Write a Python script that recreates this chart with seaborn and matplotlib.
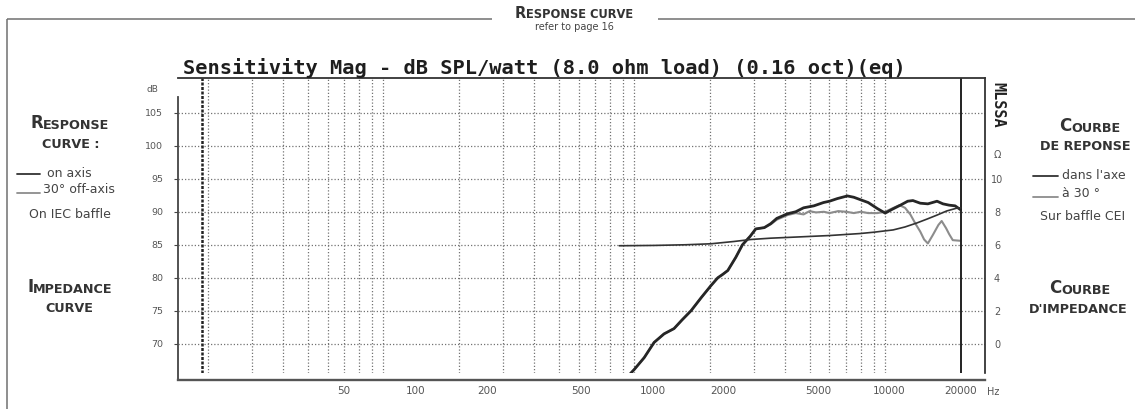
import matplotlib
matplotlib.use("Agg")
import matplotlib.pyplot as plt
from matplotlib.ticker import NullLocator
import seaborn as sns
import pandas as pd

# ---------------- data ----------------
on_axis_freq = [940, 1000, 1096, 1200, 1315, 1441, 1550, 1684, 1850, 2021,
                2153, 2250, 2360, 2540, 2700, 2900, 3050, 3300, 3500, 3700,
                4085, 4400, 4730, 5200, 5680, 6000, 6450, 7070, 7500, 7750,
                8560, 9300, 10000, 10700, 11500, 12300, 12900, 13800, 14800, 16100,
                17000, 18000, 19000, 20000]
on_axis_db = [65.0, 66.1, 67.9, 70.2, 71.5, 72.3, 73.6, 75.0, 77.0, 78.8,
              80.0, 80.5, 81.1, 83.1, 85.0, 86.3, 87.4, 87.6, 88.2, 89.0,
              89.7, 90.0, 90.6, 90.9, 91.4, 91.6, 92.0, 92.4, 92.2, 92.0,
              91.4, 90.5, 89.8, 90.4, 91.0, 91.6, 91.7, 91.3, 91.2, 91.6,
              91.2, 91.0, 90.9, 90.3]

off_axis_freq = [940, 1000, 1096, 1200, 1315, 1441, 1550, 1684, 1850, 2021,
                 2153, 2250, 2360, 2540, 2700, 2900, 3050, 3300, 3500, 3700,
                 4085, 4400, 4730, 5000, 5300, 5700, 6000, 6500, 7000, 7500,
                 8000, 8560, 9300, 10000, 10800, 11400, 12000, 12600, 13200, 13800,
                 14300, 14800, 15500, 16300, 16800, 17500, 18000, 18600, 20000]
off_axis_db = [65.0, 66.1, 67.9, 70.2, 71.5, 72.3, 73.6, 75.0, 77.0, 78.8,
               80.0, 80.5, 81.1, 83.1, 85.0, 86.3, 87.4, 87.6, 88.1, 88.8,
               89.5, 89.8, 89.6, 90.1, 89.9, 90.0, 89.8, 90.1, 90.0, 89.8,
               90.0, 89.8, 89.8, 90.0, 90.6, 91.0, 90.6, 89.6, 88.2, 87.0,
               85.8, 85.2, 86.5, 88.0, 88.6, 87.5, 86.6, 85.7, 85.6]

impedance_freq = [872, 1200, 1600, 2020, 2500, 2915, 3500, 4600, 6000, 7930,
                  9000, 10760, 12000, 13370, 14700, 16100, 17600, 19300, 20000]
impedance_ohm = [5.94, 5.96, 6.00, 6.06, 6.20, 6.32, 6.40, 6.48, 6.56, 6.68,
                 6.76, 6.90, 7.08, 7.32, 7.56, 7.80, 8.05, 8.22, 8.24]

grid_freqs = [20, 30, 40, 50, 60, 70, 80, 90, 100,
              200, 300, 400, 500, 600, 700, 800, 900, 1000,
              2000, 3000, 4000, 5000, 6000, 7000, 8000, 9000, 10000]
band_limits = [19, 20000]

spl_ticks = [70, 75, 80, 85, 90, 95, 100, 105]
spl_labels = ["70", "75", "80", "85", "90", "95", "100", "105"]
ohm_ticks = [0, 2, 4, 6, 8, 10]
ohm_labels = ["0", "2", "4", "6", "8", "10"]
freq_label_ticks = [50, 100, 200, 500, 1000, 2000, 5000, 10000, 20000]
freq_labels = ["50", "100", "200", "500", "1000", "2000", "5000", "10000", "20000"]

title = "Sensitivity Mag - dB SPL/watt (8.0 ohm load) (0.16 oct)(eq)"

# axis ranges
inner_xlim = (15.2, 25000)
inner_ylim = (65.57, 110.27)
frame_xlim = (9.94, 25350)
ohm_zero_db = 70.0
db_per_ohm = 2.5

# ---------------- figure ----------------
W, H = 1135, 409
sns.set_style("white")
plt.rcParams["font.family"] = ["DejaVu Sans"]

fig = plt.figure(figsize=(W / 100, H / 100), dpi=100)
fig.patch.set_facecolor("white")


def fx(px):
    return px / W


def fy(py):
    return 1 - py / H


TXT = "#444444"
NUM = "#555555"

# outer printed frame (carries the frequency labels)
axf = fig.add_axes([fx(178), fy(380), fx(985) - fx(178), fy(97) - fy(380)])
axf.set_facecolor("none")
axf.set_xscale("log")
axf.set_xlim(*frame_xlim)
axf.set_xticks(freq_label_ticks, labels=freq_labels)
axf.xaxis.set_minor_locator(NullLocator())
axf.tick_params(axis="x", bottom=True, length=0, pad=4.5, labelsize=7.5, labelcolor=NUM)
axf.set_yticks([])
axf.spines["top"].set_visible(False)
axf.spines["right"].set_visible(False)
axf.spines["left"].set_color("#444444")
axf.spines["left"].set_linewidth(1.3)
axf.spines["bottom"].set_color("#555555")
axf.spines["bottom"].set_linewidth(1.7)

# inner measurement plot
ax = fig.add_axes([fx(178), fy(373), fx(985) - fx(178), fy(78) - fy(373)])
ax.set_facecolor("none")
ax.set_xscale("log")

df_off = pd.DataFrame({"freq": off_axis_freq, "spl": off_axis_db})
df_on = pd.DataFrame({"freq": on_axis_freq, "spl": on_axis_db})
sns.lineplot(data=df_off, x="freq", y="spl", ax=ax, color="#8c8c8c", linewidth=1.5)
sns.lineplot(data=df_on, x="freq", y="spl", ax=ax, color="#262626", linewidth=2.0)

ax.axvline(band_limits[0], color="#222222", linewidth=1.8, linestyle=(0, (1.2, 0.6)))
ax.axvline(band_limits[1], color="#222222", linewidth=1.4)

ax.set_xticks(grid_freqs)
ax.xaxis.set_minor_locator(NullLocator())
ax.tick_params(axis="x", length=0, labelbottom=False, bottom=False)
ax.set_yticks(spl_ticks, labels=spl_labels)
ax.tick_params(axis="y", left=True, direction="out", length=3, width=0.8,
               color="#444444", pad=7.5, labelsize=6.8, labelcolor=NUM)
ax.grid(True, which="major", color="#737373", linestyle=(0, (1, 1.6)), linewidth=0.9)
ax.set_xlabel("")
ax.set_ylabel("")
ax.spines["left"].set_visible(False)
ax.spines["bottom"].set_visible(False)
ax.spines["top"].set_color("#333333")
ax.spines["top"].set_linewidth(1.3)
ax.spines["right"].set_color("#222222")
ax.spines["right"].set_linewidth(1.2)

# impedance on the right-hand (ohm) scale
axr = ax.twinx()
sns.lineplot(x=impedance_freq, y=impedance_ohm, ax=axr, color="#333333", linewidth=1.2)
axr.set_ylim((inner_ylim[0] - ohm_zero_db) / db_per_ohm, (inner_ylim[1] - ohm_zero_db) / db_per_ohm)
axr.set_yticks(ohm_ticks, labels=ohm_labels)
axr.tick_params(axis="y", right=True, length=0, pad=8.6, labelsize=7, labelcolor=NUM)
for t in axr.get_yticklabels():
    t.set_horizontalalignment("center")
axr.grid(False)
axr.set_xlabel("")
axr.set_ylabel("")
for s in axr.spines.values():
    s.set_visible(False)
axr.annotate("Ω", xy=(1, 11.44), xycoords=("axes fraction", "data"),
             xytext=(8.6, 0), textcoords="offset points",
             ha="center", va="center", fontsize=7, color=NUM)

ax.set_xlim(*inner_xlim)
ax.set_ylim(*inner_ylim)

# ---------------- overlay for page text (pixel coordinates) ----------------
ov = fig.add_axes([0, 0, 1, 1])
ov.set_xlim(0, W)
ov.set_ylim(H, 0)
ov.axis("off")
ov.set_facecolor("none")

# page box lines
ov.plot([7, 492], [19, 19], color="#707070", linewidth=1.1, solid_capstyle="butt")
ov.plot([658, W], [19, 19], color="#707070", linewidth=1.1, solid_capstyle="butt")
ov.plot([7, 7], [19, H], color="#707070", linewidth=1.1, solid_capstyle="butt")

groups = []


def small_caps(cx, base, parts, color="#333333"):
    first = ov.text(cx, base, parts[0][0], fontsize=parts[0][1], fontweight="bold",
                    color=color, ha="left", va="baseline")
    items = [first]
    prev = first
    for s, size in parts[1:]:
        t = ov.annotate(s, xy=(1, 0), xycoords=prev, fontsize=size, fontweight="bold",
                        color=color, ha="left", va="bottom")
        items.append(t)
        prev = t
    groups.append((first, items, cx))


BIG, SMALL = 12, 9.2
small_caps(574, 18, [("R", 10.5), ("ESPONSE CURVE", 8.3)])
ov.text(574, 30, "refer to page 16", ha="center", va="baseline", fontsize=7, color=TXT)

# title
ov.text(183, 74, title, family="DejaVu Sans Mono", fontweight="bold", fontsize=14.7,
        ha="left", va="baseline", color="#1e1e1e")
ov.text(998, 105, "MLSSA", rotation=270, ha="center", va="center",
        family="DejaVu Sans Mono", fontweight="bold", fontsize=11, color="#222222")
ov.text(152, 90, "dB", ha="center", va="center", fontsize=6.5, color=NUM)
ov.text(987, 392, "Hz", ha="left", va="center", fontsize=7, color=NUM)

# left panel
small_caps(70, 128, [("R", BIG), ("ESPONSE", SMALL)])
small_caps(71, 148, [("CURVE :", SMALL)])
ov.plot([17, 40], [174, 174], color="#333333", linewidth=1.3)
ov.text(47, 177, "on axis", fontsize=9, color=TXT, va="baseline")
ov.plot([17, 40], [193, 193], color="#8c8c8c", linewidth=1.3)
ov.text(43, 193, "30° off-axis", fontsize=9, color=TXT, va="baseline")
ov.text(70, 218, "On IEC baffle", fontsize=9, color=TXT, ha="center", va="baseline")
small_caps(70, 292, [("I", BIG), ("MPEDANCE", SMALL)])
small_caps(69, 312, [("CURVE", SMALL)])

# right panel
small_caps(1090, 131, [("C", BIG), ("OURBE", SMALL)])
small_caps(1085, 150, [("DE REPONSE", SMALL)])
ov.plot([1033, 1058], [176, 176], color="#333333", linewidth=1.3)
ov.text(1062, 179, "dans l'axe", fontsize=9, color=TXT, va="baseline")
ov.plot([1033, 1058], [197, 197], color="#8c8c8c", linewidth=1.3)
ov.text(1062, 197, "à 30 °", fontsize=9, color=TXT, va="baseline")
ov.text(1083, 220, "Sur baffle CEI", fontsize=9, color=TXT, ha="center", va="baseline")
small_caps(1080, 293, [("C", BIG), ("OURBE", SMALL)])
small_caps(1078, 313, [("D'IMPEDANCE", SMALL)])

# centre the small-caps groups
fig.canvas.draw()
r = fig.canvas.get_renderer()
for first, items, cx in groups:
    bbs = [t.get_window_extent(r) for t in items]
    x0 = min(b.x0 for b in bbs)
    x1 = max(b.x1 for b in bbs)
    x, y = first.get_position()
    first.set_position((x + (cx - (x0 + x1) / 2), y))

fig.savefig("out.png", dpi=100, facecolor="white")
